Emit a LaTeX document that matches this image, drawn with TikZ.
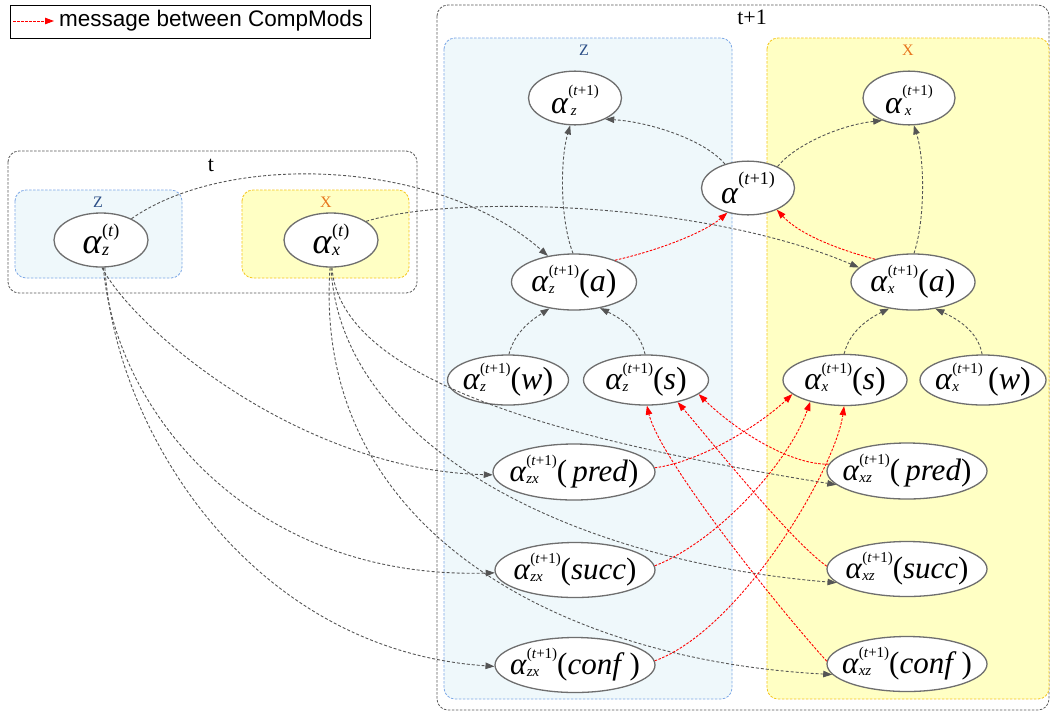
\documentclass[tikz,border=0pt]{standalone}
\usepackage{fontspec}
\setmainfont{Liberation Serif}
\newfontfamily\legendfont{Liberation Sans}
\usetikzlibrary{arrows.meta,shapes.geometric}

\definecolor{zfill}{HTML}{EFF8FB}
\definecolor{zline}{HTML}{7BA7E6}
\definecolor{ztext}{HTML}{2C4F87}
\definecolor{xfill}{HTML}{FFFFC4}
\definecolor{xline}{HTML}{F5C518}
\definecolor{xtext}{HTML}{E8761E}
\definecolor{edgegray}{HTML}{555555}
\definecolor{nodeline}{HTML}{6E6E6E}
\definecolor{clusterline}{HTML}{5A5A5A}

% alpha with stacked super/subscript and a trailing argument:
% #1 alpha size, #2 script size, #3 raise of the superscript,
% #4 superscript, #5 subscript, #6 trailing text
\newcommand{\gvar}[6]{\makebox[0pt]{\fontsize{#1}{#1}\selectfont\textit{α}{\fontsize{#2}{#2}\selectfont\rlap{\raisebox{-2pt}{\textit{#5}}}\raisebox{#3}{#4}}#6}}
\newcommand{\tpo}{(\textit{t}+1)}

\tikzset{
  var/.style={ellipse, draw=nodeline, line width=1.3pt, fill=white, inner sep=0pt,
    text height=22pt, text depth=4pt},
  topvar/.style={var, text height=34pt, text depth=4pt, minimum width=93pt, minimum height=53pt},
  tvar/.style={var, text height=30pt, text depth=4pt, minimum width=94pt, minimum height=54pt},
  midvar/.style={var, minimum width=125pt, minimum height=52pt},
  widevar/.style={var, minimum width=160pt, minimum height=55pt},
  dep/.style={draw=edgegray, line width=0.9pt, dash pattern=on 3pt off 2pt,
    -{Triangle[length=9pt,width=6.5pt]}, fill=none},
  msg/.style={draw=red, line width=0.9pt, dash pattern=on 2.5pt off 1.5pt,
    -{Triangle[length=9pt,width=6.5pt]}, fill=none},
  outer/.style={draw=clusterline, line width=0.8pt, dash pattern=on 2.5pt off 1.5pt, rounded corners=11pt},
  zbox/.style={draw=zline, fill=zfill, line width=0.8pt, dash pattern=on 2.5pt off 1.5pt, rounded corners=11pt},
  xbox/.style={draw=xline, fill=xfill, line width=0.8pt, dash pattern=on 2.5pt off 1.5pt, rounded corners=11pt},
  steplabel/.style={font=\fontsize{22}{22}\selectfont, inner sep=0pt},
  zlabel/.style={font=\fontsize{16}{16}\selectfont, text=ztext, inner sep=0pt},
  xlabel/.style={font=\fontsize{16}{16}\selectfont, text=xtext, inner sep=0pt},
}

\begin{document}
\begin{tikzpicture}[x=1pt, y=-1pt]
\useasboundingbox[fill=white] (0,0) rectangle (1051,713);

% legend
\draw[line width=0.9pt, draw=black] (10,5) rectangle (370,38);
\coordinate (legA) at (13,21);
\coordinate (legB) at (54,21);
\draw[msg] (legA) -- (legB);
\node[anchor=west, inner sep=0pt, font={\legendfont\fontsize{22.5}{23}\selectfont}] (legtext) at (59,21) {message between CompMods};

% time step t
\draw[outer] (8,151) rectangle (417,293);
\node[steplabel] (tlab) at (211,165) {t};
\draw[zbox] (15,190) rectangle (182,278);
\node[zlabel] (zlab0) at (98,202) {Z};
\draw[xbox] (242,190) rectangle (409,278);
\node[xlabel] (xlab0) at (326,202) {X};

% time step t+1
\draw[outer] (437,5) rectangle (1049,710);
\node[steplabel] (t1lab) at (752,17) {t+1};
\draw[zbox] (444,38) rectangle (732,699);
\node[zlabel] (zlab1) at (584,50) {Z};
\draw[xbox] (767,38) rectangle (1049,699);
\node[xlabel] (xlab1) at (908,50) {X};

% variables at t
\node[tvar] (az_t) at (101,240) {\gvar{36}{18}{17pt}{(\textit{t})}{z}{}};
\node[tvar] (ax_t) at (331,240) {\gvar{36}{18}{17pt}{(\textit{t})}{x}{}};

% variables at t+1
\node[topvar] (az) at (575,98) {\gvar{32}{15}{18pt}{\tpo}{\,z}{}};
\node[topvar, minimum width=92pt] (ax) at (909,98) {\gvar{32}{15}{18pt}{\tpo}{\,x}{}};
\node[topvar] (alpha) at (748,188) {\gvar{32}{18}{19pt}{\tpo}{}{}};

\node[midvar, minimum height=56pt] (aza) at (574,282) {\gvar{32}{15}{16pt}{\tpo}{z}{(\textit{a})}};
\node[midvar, minimum width=124pt, minimum height=56pt] (axa) at (913,282) {\gvar{32}{15}{16pt}{\tpo}{x}{(\textit{a})}};

\node[midvar, minimum width=121pt, minimum height=50pt] (azw) at (508,380) {\gvar{32}{15}{16pt}{\tpo}{z}{(\textit{w})}};
\node[midvar, minimum height=50pt] (azs) at (646,380) {\gvar{32}{15}{16pt}{\tpo}{z}{(\textit{s})}};
\node[midvar, minimum width=124pt, minimum height=51pt] (axs) at (845,380) {\gvar{32}{15}{16pt}{\tpo}{x}{(\textit{s})}};
\node[midvar, minimum width=126pt, minimum height=50pt] (axw) at (983,380) {\gvar{32}{15}{16pt}{\tpo}{x}{\,(\textit{w})}};

\node[widevar, minimum width=162pt, minimum height=56pt] (zxp) at (574,472) {\gvar{31}{15}{16pt}{\tpo}{zx}{(\,\textit{pred})}};
\node[widevar, minimum height=56pt] (xzp) at (907,471) {\gvar{31}{15}{16pt}{\tpo}{xz}{(\,\textit{pred})}};
\node[widevar] (zxs) at (575,570) {\gvar{31}{15}{16pt}{\tpo}{zx}{(\textit{succ})}};
\node[widevar] (xzs) at (907,569) {\gvar{31}{15}{16pt}{\tpo}{xz}{(\textit{succ})}};
\node[widevar] (zxc) at (575,665) {\gvar{31}{15}{16pt}{\tpo}{zx}{(\textit{conf}\,)}};
\node[widevar] (xzc) at (907,664) {\gvar{31}{15}{16pt}{\tpo}{xz}{(\textit{conf}\,)}};

% dependencies from t to t+1
\draw[dep] (az_t.35) .. controls (230,150) and (440,160) .. (aza.135);
\draw[dep] (ax_t.28) .. controls (450,195) and (700,200) .. (axa.165);
\draw[dep] (az_t.-88) .. controls (135,330) and (300,470) .. (zxp.182);
\draw[dep] (az_t.-85) .. controls (115,410) and (250,580) .. (zxs.182);
\draw[dep] (az_t.-82) .. controls (115,430) and (250,650) .. (zxc.181);
\draw[dep] (ax_t.-88) .. controls (340,380) and (560,440) .. (xzp.191);
\draw[dep] (ax_t.-90) .. controls (340,440) and (560,560) .. (xzs.191);
\draw[dep] (ax_t.-92) .. controls (312,530) and (560,660) .. (xzc.188);

% dependencies inside t+1
\draw[dep] (alpha.134) .. controls (705,140) and (650,122) .. (az.-35);
\draw[dep] (alpha.36) .. controls (795,145) and (840,125) .. (ax.220);
\draw[dep] (aza.92) .. controls (560,220) and (560,160) .. (az.260);
\draw[dep] (axa.88) .. controls (925,220) and (925,160) .. (ax.280);
\draw[dep] (azw.88) .. controls (515,330) and (535,318) .. (aza.227);
\draw[dep] (azs.92) .. controls (640,330) and (620,318) .. (aza.-45);
\draw[dep] (axs.92) .. controls (850,330) and (870,318) .. (axa.228);
\draw[dep] (axw.92) .. controls (978,330) and (955,318) .. (axa.-50);

% messages between CompMods
\draw[msg] (aza.28) .. controls (660,250) and (705,232) .. (alpha.230);
\draw[msg] (axa.149) .. controls (840,250) and (800,235) .. (alpha.-37);
\draw[msg] (zxp.3) .. controls (700,462) and (760,425) .. (axs.195);
\draw[msg] (zxs.3) .. controls (720,540) and (790,460) .. (axs.212);
\draw[msg] (zxc.3) .. controls (740,630) and (835,470) .. (axs.268);
\draw[msg] (xzp.175) .. controls (790,465) and (735,430) .. (azs.-15);
\draw[msg] (xzs.178) .. controls (790,540) and (710,440) .. (azs.-35);
\draw[msg] (xzc.178) .. controls (780,610) and (660,460) .. (azs.-88);
\end{tikzpicture}
\end{document}
